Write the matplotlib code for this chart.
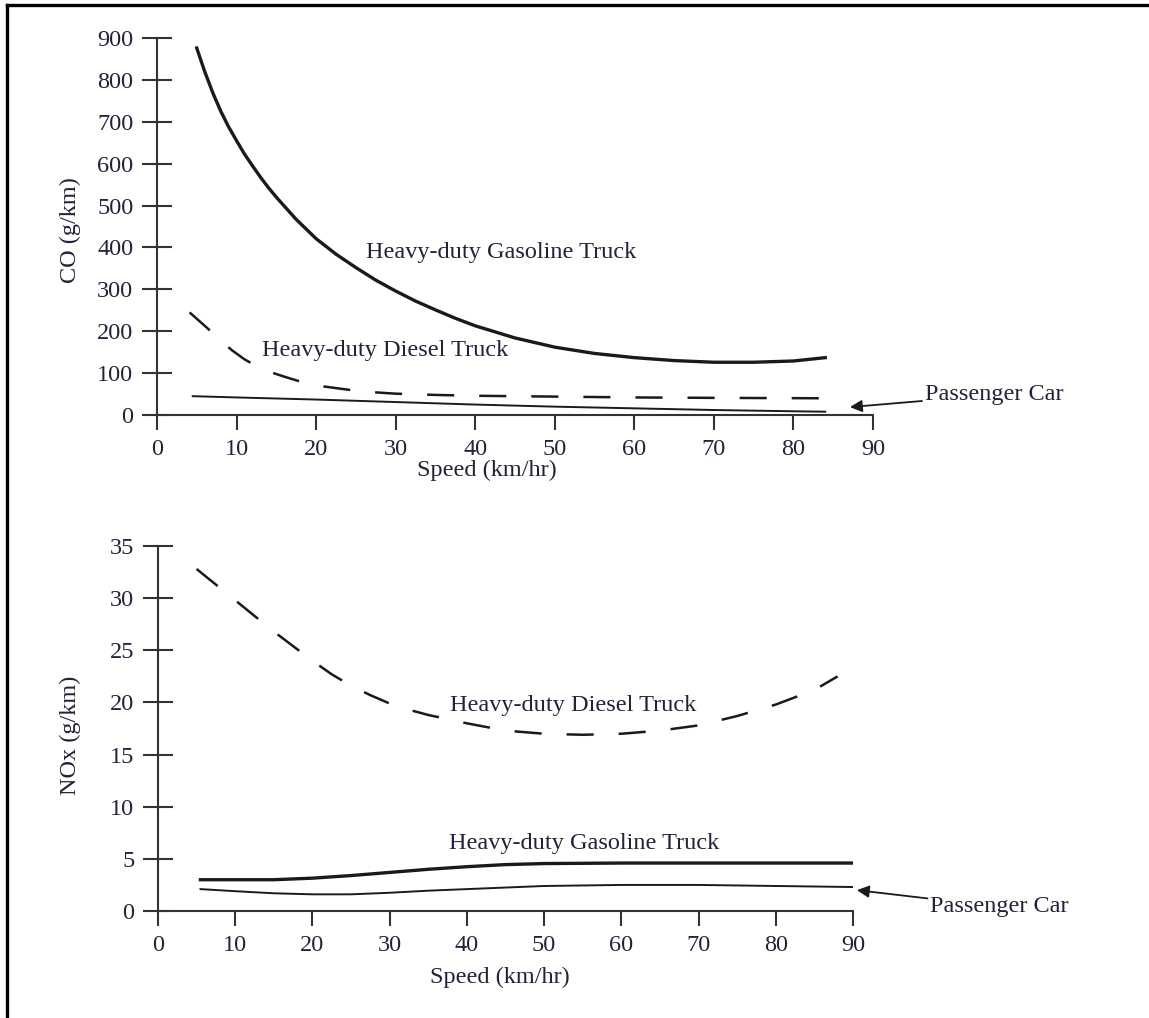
"""
CO and NOx emission rates vs. speed for three vehicle types
"""

import matplotlib
matplotlib.use('Agg')
import matplotlib.pyplot as plt
from matplotlib.lines import Line2D

# ---- CO (g/km), top panel ----
co_gas_speed = [5, 6, 7, 8, 9, 10, 11, 12, 13, 14, 15, 17.5, 20, 22.5, 25, 27.5, 30, 32.5, 35,
                37.5, 40, 45, 50, 55, 60, 65, 70, 75, 80, 84]
co_gas = [876, 820, 770, 726, 688, 655, 623, 595, 568, 543, 520, 467, 421, 384, 352, 322, 296, 272,
          251, 231, 213, 184, 162, 147, 137, 130, 126, 126, 129, 137]

co_diesel_speed = [4.1, 6.3, 8, 9.4, 11, 12.7, 14.5, 16.1, 18, 19.5, 22.6, 25.9, 30, 35, 40, 50, 60, 70, 84]
co_diesel = [245, 208, 178, 155, 133, 115, 101, 91, 80, 72, 64, 56, 51, 48, 46, 44, 42, 41, 40]

co_car_speed = [4.5, 10, 20, 30, 40, 50, 60, 70, 80, 84]
co_car = [45, 42, 37, 31, 25, 20, 16, 12, 9, 8]

# ---- NOx (g/km), bottom panel ----
nox_diesel_speed = [5, 7.5, 10, 12.5, 15, 17.5, 20, 22.5, 25, 27.5, 30, 32.5, 35, 37.5, 40, 45, 50,
                    55, 60, 65, 70, 75, 80, 85, 88]
nox_diesel = [32.8, 31.3, 29.8, 28.3, 26.8, 25.4, 24.0, 22.7, 21.6, 20.7, 19.9, 19.3, 18.8, 18.4,
              18.0, 17.3, 17.0, 16.9, 17.0, 17.3, 17.8, 18.7, 19.8, 21.2, 22.5]

nox_gas_speed = [5.5, 10, 15, 20, 25, 30, 35, 40, 45, 50, 60, 70, 80, 90]
nox_gas = [3.0, 3.0, 3.0, 3.15, 3.4, 3.7, 4.0, 4.25, 4.45, 4.55, 4.6, 4.6, 4.6, 4.6]

nox_car_speed = [5.5, 10, 15, 20, 25, 30, 35, 40, 45, 50, 60, 70, 80, 90]
nox_car = [2.1, 1.9, 1.7, 1.6, 1.6, 1.75, 1.95, 2.1, 2.25, 2.4, 2.5, 2.5, 2.4, 2.3]

x_ticks = list(range(0, 91, 10))
co_ticks = list(range(0, 901, 100))
nox_ticks = list(range(0, 36, 5))

TXT = '#22223a'
INK = '#1a1a1a'
SPINE = '#333333'

plt.rcParams['font.family'] = ['Liberation Serif', 'DejaVu Serif']
plt.rcParams['font.size'] = 17.5
plt.rcParams['lines.scale_dashes'] = False

fig = plt.figure(figsize=(11.49, 10.18), dpi=100)
ax1 = fig.add_axes([0.1366, 0.5923, 0.6232, 0.3704])
ax2 = fig.add_axes([0.1375, 0.1051, 0.6049, 0.3585])

# frame (only top and left edges are visible in the original)
fig.add_artist(Line2D([0.0061, 1], [0.9951, 0.9951], transform=fig.transFigure, color='black', lw=2.4))
fig.add_artist(Line2D([0.0061, 0.0061], [0, 0.9951], transform=fig.transFigure, color='black', lw=2.4))


def style_axes(ax, yticks, ymax):
    for side in ['top', 'right']:
        ax.spines[side].set_visible(False)
    for side in ['left', 'bottom']:
        ax.spines[side].set_linewidth(1.5)
        ax.spines[side].set_color(SPINE)
    ax.set_xlim(0, 90)
    ax.set_ylim(0, ymax)
    ax.set_xticks(x_ticks)
    ax.set_yticks(yticks)
    ax.tick_params(axis='y', direction='inout', length=22, width=1.5, color=SPINE,
                   labelcolor=TXT, pad=6)
    ax.tick_params(axis='x', direction='out', length=11, width=1.5, color=SPINE,
                   labelcolor=TXT, pad=6)
    ax.patch.set_visible(False)


# Top: CO
style_axes(ax1, co_ticks, 900)
ax1.plot(co_gas_speed, co_gas, color=INK, lw=2.4, solid_joinstyle='round')
ax1.plot(co_diesel_speed, co_diesel, color=INK, lw=1.8, dashes=(19.5, 18))
ax1.plot(co_car_speed, co_car, color=INK, lw=1.4)
ax1.text(43.3, 389, 'Heavy-duty Gasoline Truck', ha='center', va='center', color=TXT)
ax1.text(28.7, 155, 'Heavy-duty Diesel Truck', ha='center', va='center', color=TXT)
ax1.annotate('Passenger Car', xy=(87.1, 19), xytext=(96.5, 48), ha='left', va='center',
             color=TXT, annotation_clip=False,
             arrowprops=dict(arrowstyle='-|>', color=INK, lw=1.3, shrinkA=0, shrinkB=0,
                             mutation_scale=18))
ax1.set_xlabel('Speed (km/hr)', color=TXT)
ax1.set_ylabel('CO (g/km)', color=TXT)
ax1.xaxis.set_label_coords(0.461, -0.120)
ax1.yaxis.set_label_coords(-0.106, 0.49)

# Bottom: NOx
style_axes(ax2, nox_ticks, 35)
ax2.plot(nox_diesel_speed, nox_diesel, color=INK, lw=1.8, dashes=(19.5, 18))
ax2.plot(nox_gas_speed, nox_gas, color=INK, lw=2.4)
ax2.plot(nox_car_speed, nox_car, color=INK, lw=1.4)
ax2.text(53.8, 19.75, 'Heavy-duty Diesel Truck', ha='center', va='center', color=TXT)
ax2.text(55.2, 6.5, 'Heavy-duty Gasoline Truck', ha='center', va='center', color=TXT)
ax2.annotate('Passenger Car', xy=(90.5, 2.0), xytext=(100, 0.4), ha='left', va='center',
             color=TXT, annotation_clip=False,
             arrowprops=dict(arrowstyle='-|>', color=INK, lw=1.3, shrinkA=0, shrinkB=0,
                             mutation_scale=18))
ax2.set_xlabel('Speed (km/hr)', color=TXT)
ax2.set_ylabel('NOx (g/km)', color=TXT)
ax2.xaxis.set_label_coords(0.492, -0.153)
ax2.yaxis.set_label_coords(-0.111, 0.482)

fig.savefig('out.png', dpi=100, facecolor='white')
